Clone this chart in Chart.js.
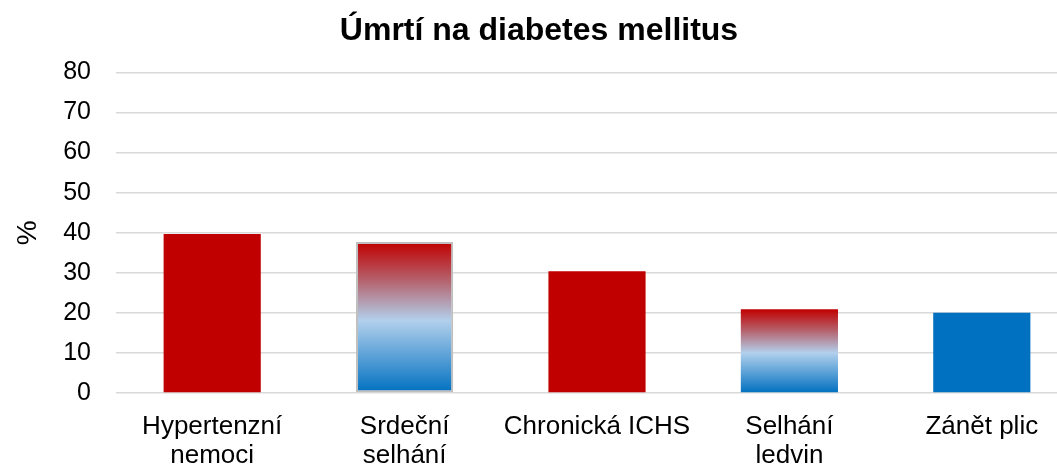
<!DOCTYPE html>
<html>
<head>
<meta charset="utf-8">
<script src="https://cdn.jsdelivr.net/npm/chart.js@4"></script>
<style>
  html, body { margin: 0; padding: 0; background: #fff; overflow: hidden; }
  #wrap { width: 1082px; height: 467px; }
</style>
</head>
<body>
<div id="wrap"><canvas id="deathChart"></canvas></div>
<script>
const categories = [["Hypertenzní", "nemoci"], ["Srdeční", "selhání"], "Chronická ICHS", ["Selhání", "ledvin"], "Zánět plic"];
const deathShare = [39.7, 37.7, 30.4, 20.9, 20.0];
const yTicks = [0, 10, 20, 30, 40, 50, 60, 70, 80];

const RED = "#C00000";
const BLUE = "#0070C0";
const FONT = "'Liberation Sans', Arial, sans-serif";

/* ================= BAR FILLS ================= */

// red -> light blue -> blue, stretched over each bar's own height
function gradientFill(ctx) {
  const chart = ctx.chart;
  const y = chart.scales && chart.scales.y;
  if (!chart.chartArea || !y || ctx.raw == null) return RED;
  const top = y.getPixelForValue(ctx.raw);
  const bottom = y.getPixelForValue(0);
  const g = chart.ctx.createLinearGradient(0, top, 0, bottom);
  g.addColorStop(0, "#C00000");
  g.addColorStop(0.25, "#B5606A");
  g.addColorStop(0.52, "#B2D0EC");
  g.addColorStop(1, "#0070C0");
  return g;
}

const fills = [RED, gradientFill, RED, gradientFill, BLUE];

new Chart(document.getElementById("deathChart"), {
  type: "bar",
  data: {
    labels: categories,
    datasets: [{
      data: deathShare,
      backgroundColor: (ctx) => {
        const f = fills[ctx.dataIndex];
        return typeof f === "function" ? f(ctx) : f;
      },
      borderColor: "#BFBFBF",
      borderWidth: [0, 2, 0, 0, 0],
      borderSkipped: false,
      barPercentage: 0.505,
      categoryPercentage: 1
    }]
  },
  options: {
    responsive: true,
    maintainAspectRatio: false,
    animation: false,
    layout: { padding: { left: 0, right: 4, top: 0, bottom: 0 } },
    plugins: {
      legend: { display: false },
      tooltip: { enabled: false },
      title: {
        display: true,
        text: "Úmrtí na diabetes mellitus",
        color: "#000",
        font: { family: FONT, size: 32, weight: "bold", lineHeight: 1.2 },
        padding: { top: 12, bottom: 22 }
      }
    },
    scales: {
      x: {
        grid: { display: false, drawTicks: false },
        border: { display: false },
        ticks: {
          color: "#000",
          padding: 20,
          maxRotation: 0,
          autoSkip: false,
          font: { family: FONT, size: 26, lineHeight: 1.1 }
        },
        afterFit: (scale) => { scale.height = 74; }
      },
      y: {
        min: 0,
        max: 80,
        afterBuildTicks: (scale) => {
          scale.ticks = yTicks.map((v) => ({ value: v }));
        },
        grid: { color: "#D9D9D9", lineWidth: 1.5, drawTicks: false },
        border: { display: false },
        ticks: {
          color: "#000",
          padding: 25,
          font: { family: FONT, size: 25 }
        },
        title: {
          display: true,
          text: "%",
          color: "#000",
          font: { family: FONT, size: 28 },
          padding: { top: 11, bottom: 0 }
        },
        afterFit: (scale) => { scale.width = 116; }
      }
    }
  }
});
</script>
</body>
</html>
